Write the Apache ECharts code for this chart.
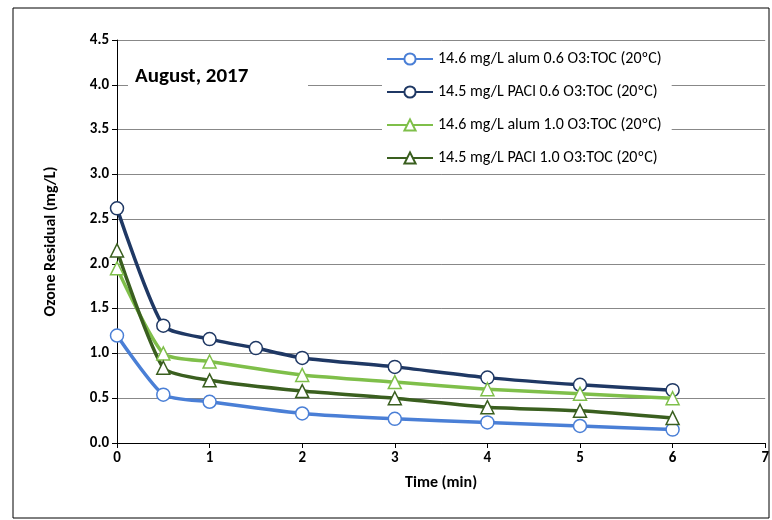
<!DOCTYPE html><html><head><meta charset="utf-8"><script src="https://cdn.jsdelivr.net/npm/echarts@6/dist/echarts.min.js"></script></head><body style="margin:0"><div id="c" style="width:772px;height:520px"></div><script>
const names=['14.6 mg/L alum 0.6 O3:TOC (20ºC)','14.5 mg/L PACl 0.6 O3:TOC (20ºC)','14.6 mg/L alum 1.0 O3:TOC (20ºC)','14.5 mg/L PACl 1.0 O3:TOC (20ºC)'];
const s1=[[0,1.2],[0.5,0.54],[1,0.46],[2,0.33],[3,0.27],[4,0.23],[5,0.19],[6,0.15]];
const s2=[[0,2.62],[0.5,1.31],[1,1.16],[1.5,1.06],[2,0.95],[3,0.85],[4,0.73],[5,0.65],[6,0.59]];
const s3=[[0,1.95],[0.5,1.0],[1,0.91],[2,0.76],[3,0.68],[4,0.60],[5,0.55],[6,0.50]];
const s4=[[0,2.15],[0.5,0.84],[1,0.70],[2,0.58],[3,0.50],[4,0.40],[5,0.36],[6,0.28]];
const cols=['#4a7fd6','#1f3864','#7fbf4a','#3a5f1f'];
const syms=['circle','circle','triangle','triangle'];
const ch=echarts.init(document.getElementById('c'));
const F='Calibri, Carlito, Lato, sans-serif';
ch.setOption({animation:false,textStyle:{fontFamily:F},
grid:{left:117,right:6,top:40,bottom:77},
graphic:[{type:'rect',shape:{x:13,y:8,width:756,height:510},style:{fill:'none',stroke:'#000',lineWidth:1},z:-1},
{type:'rect',shape:{x:128,y:62,width:180,height:36},style:{fill:'#fff'},z:50},
{type:'text',left:135,top:66,style:{text:'August, 2017',font:'bold 21px '+F,fill:'#000'},z:51}],
xAxis:{type:'value',min:0,max:7,interval:1,name:'Time (min)',nameLocation:'middle',nameGap:32,nameTextStyle:{fontWeight:'bold',fontSize:16,color:'#000'},axisLine:{lineStyle:{color:'#000'}},axisTick:{show:true,lineStyle:{color:'#000'}},axisLabel:{color:'#000',fontWeight:'bold',fontSize:15},splitLine:{show:false}},
yAxis:{type:'value',min:0,max:4.5,interval:0.5,name:'Ozone Residual (mg/L)',nameLocation:'middle',nameGap:58,nameTextStyle:{fontWeight:'bold',fontSize:16,color:'#000'},axisLine:{show:true,lineStyle:{color:'#000'}},axisTick:{show:true,lineStyle:{color:'#000'}},axisLabel:{color:'#000',fontWeight:'bold',fontSize:15,formatter:v=>v.toFixed(1)},splitLine:{lineStyle:{color:'#888'}}},
legend:{orient:'vertical',left:382,top:49,itemGap:17,itemWidth:46,itemHeight:14,backgroundColor:'#fff',padding:[2,10,2,4],textStyle:{fontSize:16,color:'#000'},data:names},
series:[s1,s2,s3,s4].map((d,i)=>({name:names[i],type:'line',smooth:0.2,data:d,symbol:syms[i],symbolSize:13,lineStyle:{color:cols[i],width:3.5},itemStyle:{color:'#fff',borderColor:cols[i],borderWidth:1.5}}))
});
</script></body></html>
